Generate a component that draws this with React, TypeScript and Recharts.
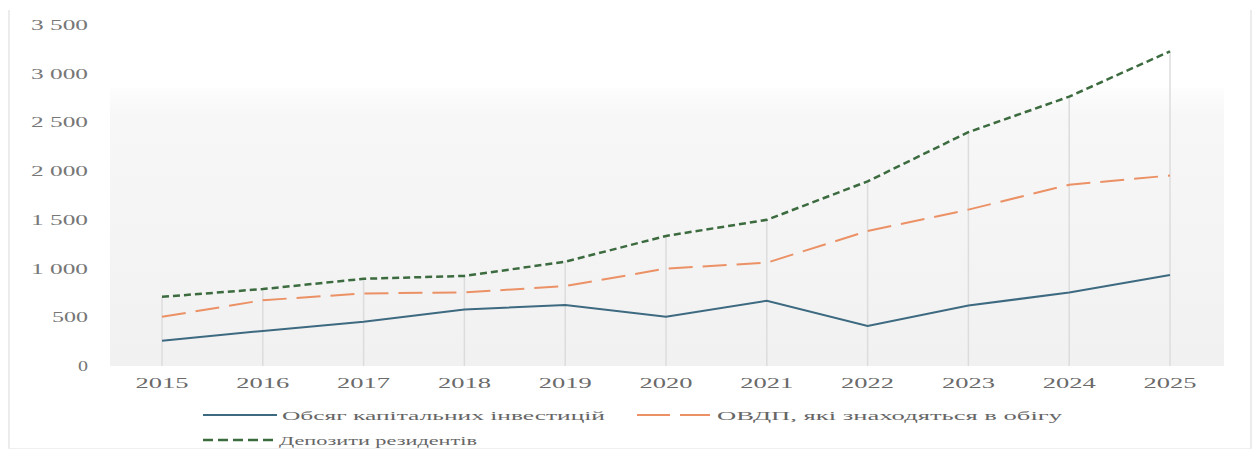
import React from 'react';
import { LineChart, Line, XAxis, YAxis, ReferenceLine } from 'recharts';

const years = ['2015', '2016', '2017', '2018', '2019', '2020', '2021', '2022', '2023', '2024', '2025'];
const capitalInvestment = [260, 360, 455, 580, 625, 505, 670, 410, 620, 755, 935];
const ovdpInCirculation = [505, 675, 745, 755, 820, 1000, 1060, 1385, 1605, 1860, 1955];
const residentDeposits = [710, 790, 895, 925, 1070, 1335, 1500, 1895, 2400, 2765, 3230];
const yTicks = [0, 500, 1000, 1500, 2000, 2500, 3000, 3500];

const seriesNames = ['Обсяг капітальних інвестицій', 'ОВДП, які знаходяться в обігу', 'Депозити резидентів'];

const data = years.map((y, i) => ({
  year: y,
  cap: capitalInvestment[i],
  ovdp: ovdpInCirculation[i],
  dep: residentDeposits[i],
  top: Math.max(capitalInvestment[i], ovdpInCirculation[i], residentDeposits[i]),
}));

const FONT = '"Liberation Serif", "DejaVu Serif", serif';
const fmt = (v: number) => String(v).replace(/\B(?=(\d{3})+(?!\d))/g, ' ');

const YTick = (props: any) => {
  const { y, payload } = props;
  const s = fmt(payload.value);
  const digits = s.replace(/ /g, '').length;
  const spaces = s.length - digits;
  const len = digits * 13 - 3 + spaces * 8;
  return (
    <text x={88} y={y} dy={5} textAnchor="end" fontFamily={FONT} fontSize={14} fill="#777"
      textLength={len} lengthAdjust="spacingAndGlyphs">{s}</text>
  );
};

const XTick = (props: any) => {
  const { x, payload } = props;
  return (
    <text x={x} y={388} textAnchor="middle" fontFamily={FONT} fontSize={15} fill="#6a6a6a"
      textLength={53} lengthAdjust="spacingAndGlyphs">{payload.value}</text>
  );
};

const legendItems = [
  { name: seriesNames[0], color: '#3d6a80', dash: undefined as string | undefined, x1: 203, x2: 277, tx: 282, tl: 323, y: 415, w: 2 },
  { name: seriesNames[1], color: '#eb9165', dash: '33 10', x1: 637, x2: 710, tx: 717, tl: 345, y: 415, w: 2 },
  { name: seriesNames[2], color: '#3b6b3e', dash: '10 5', x1: 203, x2: 273, tx: 279, tl: 198, y: 440, w: 2.5 },
];

export default function App() {
  return (
    <div style={{ position: 'absolute', left: 0, top: 0, width: 1253, height: 452, background: '#fff', overflow: 'hidden' }}>
      <div style={{ position: 'absolute', left: 8, top: 10, width: 1240, height: 438, borderLeft: '2px solid #ececec', borderRight: '2px solid #ececec', borderBottom: '1px solid #f0f0f0' }} />
      <div style={{ position: 'absolute', left: 110, top: 88, width: 1114, height: 278, background: 'linear-gradient(to bottom, #fdfdfd, #f7f7f7 10%, #f1f1f1)' }} />
      <div style={{ position: 'absolute', left: 0, top: 0 }}>
        <LineChart width={1253} height={452} data={data} margin={{ top: 25, right: 32.6, left: 51.6, bottom: 56 }}>
          <XAxis dataKey="year" axisLine={false} tickLine={false} tick={<XTick />} height={30} interval={0} padding={{ left: 50.4, right: 50.4 }} />
          <YAxis domain={[0, 3500]} ticks={yTicks} axisLine={false} tickLine={false} tick={<YTick />} width={60} />
          {data.map((d) => (
            <ReferenceLine key={d.year} segment={[{ x: d.year, y: 0 }, { x: d.year, y: d.top }]} stroke="#dcdcdc" strokeWidth={1.5} />
          ))}
          <Line type="linear" dataKey="cap" stroke="#3d6a80" strokeWidth={2} dot={false} isAnimationActive={false} />
          <Line type="linear" dataKey="ovdp" stroke="#eb9165" strokeWidth={2} strokeDasharray="24 10" dot={false} isAnimationActive={false} />
          <Line type="linear" dataKey="dep" stroke="#3b6b3e" strokeWidth={2.5} strokeDasharray="7 4" dot={false} isAnimationActive={false} />
        </LineChart>
      </div>
      <svg style={{ position: 'absolute', left: 0, top: 0 }} width={1253} height={452}>
        {legendItems.map((it) => (
          <g key={it.name}>
            <line x1={it.x1} x2={it.x2} y1={it.y} y2={it.y} stroke={it.color} strokeWidth={it.w} strokeDasharray={it.dash} />
            <text x={it.tx} y={it.y + 5} fontFamily={FONT} fontSize={13} fill="#666" textLength={it.tl} lengthAdjust="spacingAndGlyphs">{it.name}</text>
          </g>
        ))}
      </svg>
    </div>
  );
}
